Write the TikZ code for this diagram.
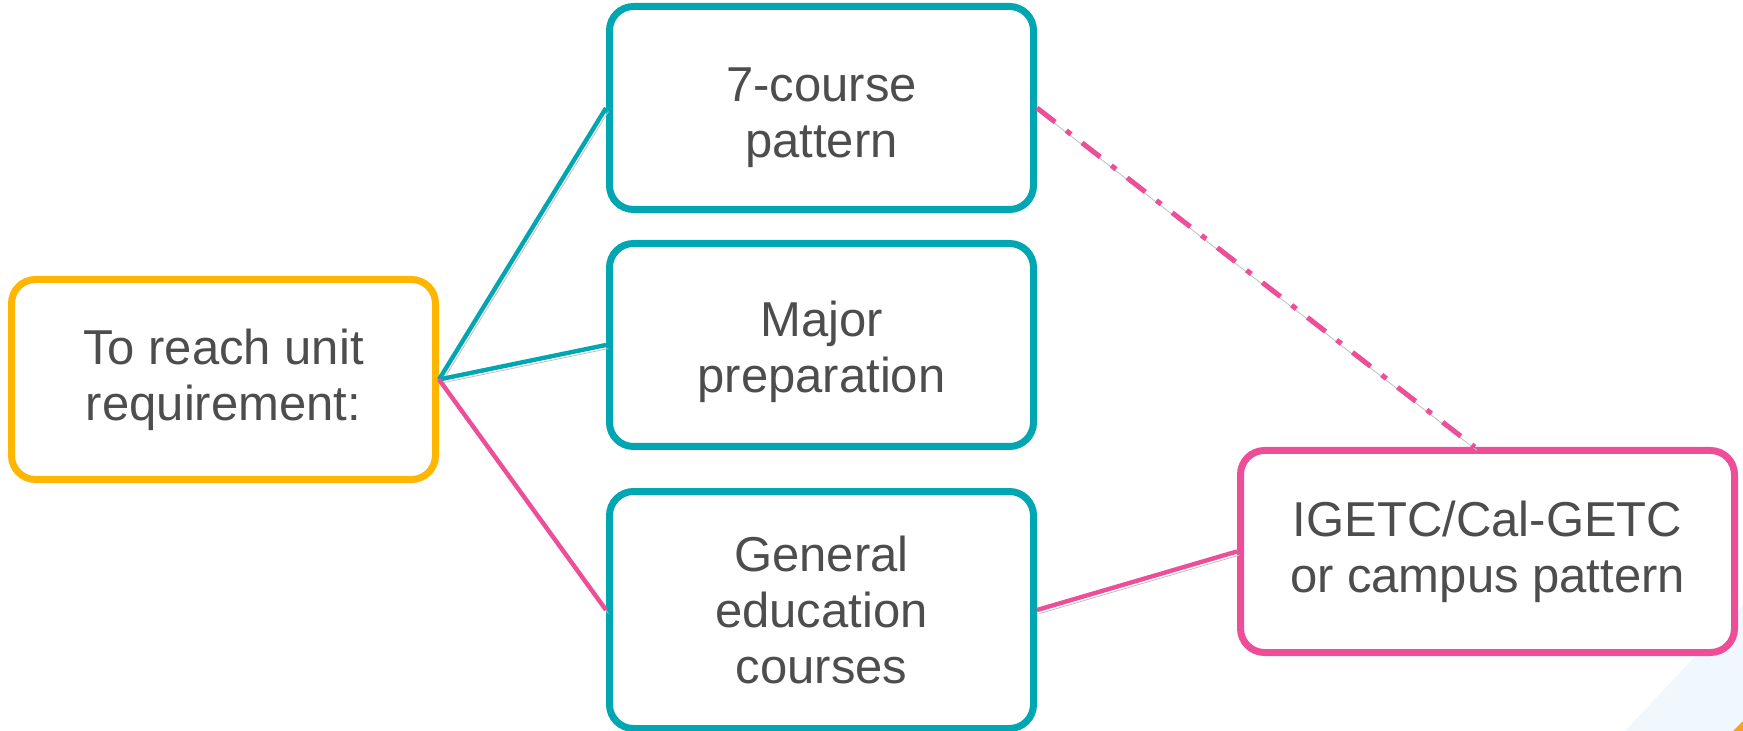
\documentclass[tikz,border=0pt]{standalone}
\usepackage{fontspec}
\setmainfont{Liberation Sans}
\usepackage{xcolor}
\usepackage{tikz}
\definecolor{Teal}{RGB}{0,166,178}
\definecolor{Amber}{RGB}{255,182,0}
\definecolor{Rose}{RGB}{236,78,152}
\definecolor{Ink}{RGB}{77,77,77}
\definecolor{Sky}{RGB}{241,248,253}
\definecolor{Tip}{RGB}{247,160,40}
\newcommand{\padtop}[1]{\rule{0pt}{#1}}% extra room above the first line
\tikzset{
  box/.style={draw,line width=3.5pt,rounded corners=12pt,fill=white,align=center,
    text=Ink,font=\fontsize{24.5}{28}\selectfont,inner sep=0pt},
  link/.style={line width=2.2pt,preaction={draw=black!25,
    transform canvas={shift={(1.2pt,-1.8pt)}}}}
}

\begin{document}
\begin{tikzpicture}[x=0.5pt,y=-0.5pt]
\useasboundingbox (0,0) rectangle (1743,731);
% corner decoration
\fill[Sky] (1625,731) -- (1743,605) -- (1743,731) -- cycle;
\fill[Tip] (1733,731) -- (1743,721) -- (1743,731) -- cycle;
% boxes
\node[box,draw=Amber,minimum width=212pt,minimum height=100pt] (req) at (223.5,379.5) {To reach unit\\requirement:};
\node[box,draw=Teal,minimum width=212pt,minimum height=101.5pt] (seven) at (821.5,108) {\padtop{26.5pt}7-course\\pattern};
\node[box,draw=Teal,minimum width=212pt,minimum height=101.5pt] (major) at (821.5,345) {\padtop{24.2pt}Major\\preparation};
\node[box,draw=Teal,minimum width=212pt,minimum height=118.5pt] (gened) at (821.5,610) {General\\education\\courses};
\node[box,draw=Rose,minimum width=247pt,minimum height=101pt] (igetc) at (1487.5,551.5) {IGETC/Cal-GETC\\or campus pattern};
% links
\draw[link,Teal] (req.east) -- (seven.west);
\draw[link,Teal] (req.east) -- (major.west);
\draw[link,Rose] (req.east) -- (gened.west);
\draw[link,Rose] (gened.east) -- (igetc.west);
\draw[link,Rose,line width=2.5pt,dash pattern=on 11.5pt off 7pt on 3pt off 7pt] (seven.east) -- (igetc.97);
\end{tikzpicture}
\end{document}
